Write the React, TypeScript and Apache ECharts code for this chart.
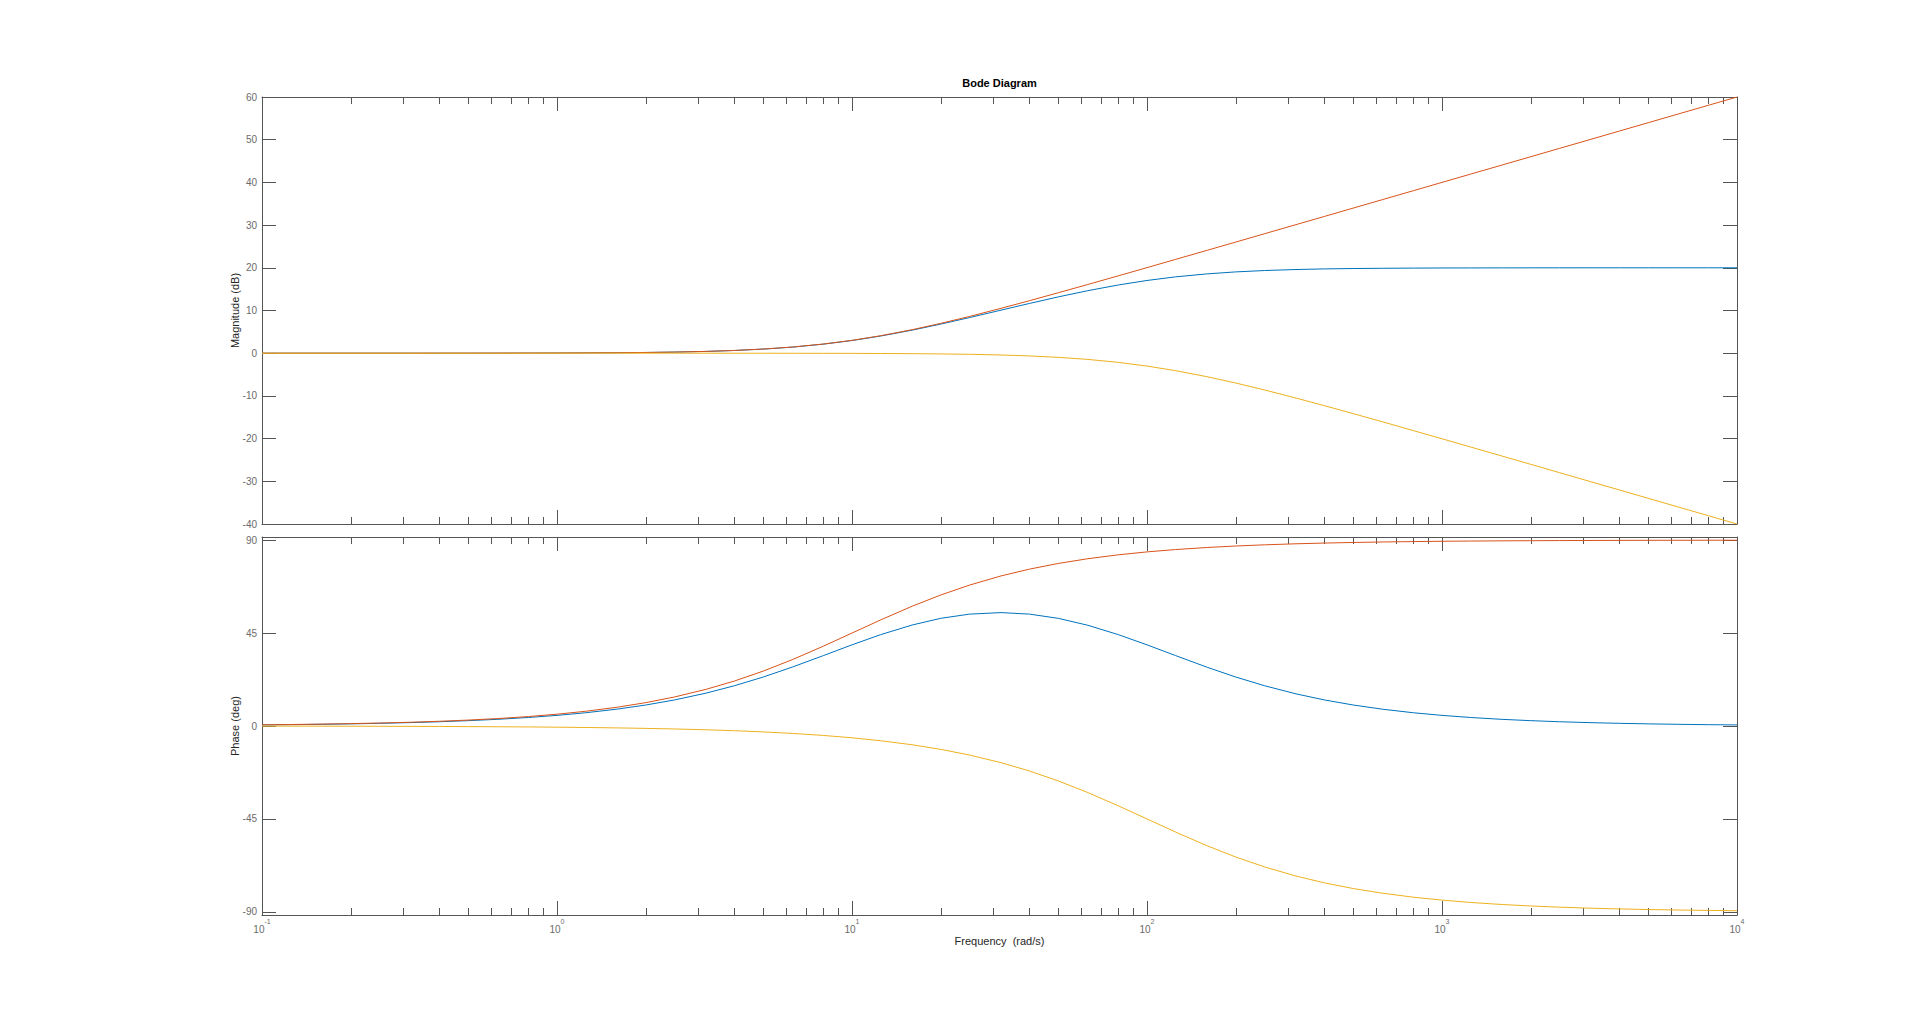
import React, { useEffect, useRef } from 'react';
import * as echarts from 'echarts';

// Frequencies (rad/s) at which the curves were read (10 per decade)
const FREQ = [
  0.1, 0.125, 0.16, 0.2, 0.25, 0.32, 0.4, 0.5, 0.63, 0.8,
  1, 1.25, 1.6, 2, 2.5, 3.2, 4, 5, 6.3, 8,
  10, 12.5, 16, 20, 25, 32, 40, 50, 63, 80,
  100, 125, 160, 200, 250, 320, 400, 500, 630, 800,
  1000, 1250, 1600, 2000, 2500, 3200, 4000, 5000, 6300, 8000,
  10000,
];

// Magnitude (dB)
const MAG_BLUE = [
  0, 0, 0, 0, 0, 0, 0.01, 0.01, 0.02, 0.03,
  0.04, 0.07, 0.11, 0.17, 0.26, 0.42, 0.64, 0.96, 1.43, 2.12,
  2.97, 4.02, 5.4, 6.82, 8.34, 10.08, 11.66, 13.18, 14.64, 15.98,
  17.03, 17.88, 18.58, 19.04, 19.36, 19.6, 19.74, 19.83, 19.89, 19.93,
  19.96, 19.97, 19.98, 19.99, 19.99, 20.0, 20.0, 20.0, 20.0, 20.0,
  20.0,
];
const MAG_RED = [
  0, 0, 0, 0, 0, 0, 0.01, 0.01, 0.02, 0.03,
  0.04, 0.07, 0.11, 0.17, 0.26, 0.42, 0.64, 0.97, 1.45, 2.15,
  3.01, 4.09, 5.51, 6.99, 8.6, 10.51, 12.3, 14.15, 16.09, 18.13,
  20.04, 21.97, 24.1, 26.03, 27.97, 30.11, 32.04, 33.98, 35.99, 38.06,
  40.0, 41.94, 44.08, 46.02, 47.96, 50.1, 52.04, 53.98, 55.99, 58.06,
  60.0,
];
const MAG_YELLOW = [
  0, 0, 0, 0, 0, 0, 0, 0, 0, 0,
  0, 0, 0, 0, 0, 0, -0.01, -0.01, -0.02, -0.03,
  -0.04, -0.07, -0.11, -0.17, -0.26, -0.42, -0.64, -0.97, -1.45, -2.15,
  -3.01, -4.09, -5.51, -6.99, -8.6, -10.51, -12.3, -14.15, -16.09, -18.13,
  -20.04, -21.97, -24.1, -26.03, -27.97, -30.11, -32.04, -33.98, -35.99, -38.06,
  -40.0,
];

// Phase (deg)
const PHASE_BLUE = [
  0.52, 0.64, 0.83, 1.03, 1.29, 1.65, 2.06, 2.58, 3.24, 4.12,
  5.14, 6.41, 8.17, 10.16, 12.6, 15.91, 19.51, 23.7, 28.61, 34.09,
  39.29, 44.22, 48.9, 52.13, 54.16, 54.9, 54.16, 52.13, 48.77, 44.22,
  39.29, 34.09, 28.43, 23.7, 19.51, 15.56, 12.6, 10.16, 8.11, 6.41,
  5.14, 4.12, 3.22, 2.58, 2.06, 1.61, 1.29, 1.03, 0.82, 0.64,
  0.52,
];
const PHASE_RED = [
  0.57, 0.72, 0.92, 1.15, 1.43, 1.83, 2.29, 2.86, 3.6, 4.57,
  5.71, 7.13, 9.09, 11.31, 14.04, 17.75, 21.8, 26.57, 32.21, 38.66,
  45.0, 51.34, 58.0, 63.43, 68.2, 72.65, 75.96, 78.69, 80.98, 82.88,
  84.29, 85.43, 86.42, 87.14, 87.71, 88.21, 88.57, 88.85, 89.09, 89.28,
  89.43, 89.54, 89.64, 89.71, 89.77, 89.82, 89.86, 89.89, 89.91, 89.93,
  89.94,
];
const PHASE_YELLOW = [
  -0.06, -0.07, -0.09, -0.11, -0.14, -0.18, -0.23, -0.29, -0.36, -0.46,
  -0.57, -0.72, -0.92, -1.15, -1.43, -1.83, -2.29, -2.86, -3.6, -4.57,
  -5.71, -7.13, -9.09, -11.31, -14.04, -17.75, -21.8, -26.57, -32.21, -38.66,
  -45.0, -51.34, -58.0, -63.43, -68.2, -72.65, -75.96, -78.69, -80.98, -82.88,
  -84.29, -85.43, -86.42, -87.14, -87.71, -88.21, -88.57, -88.85, -89.09, -89.28,
  -89.43,
];

// Axis ticks
const X_TICKS = [0.1, 1, 10, 100, 1000, 10000];
const X_EXPONENTS = ['-1', '0', '1', '2', '3', '4'];
const X_MINOR = [0.2, 0.3, 0.4, 0.5, 0.6, 0.7, 0.8, 0.9, 2, 3, 4, 5, 6, 7, 8, 9, 20, 30, 40, 50, 60, 70, 80, 90, 200, 300, 400, 500, 600, 700, 800, 900, 2000, 3000, 4000, 5000, 6000, 7000, 8000, 9000];
const MAG_MIN = -40;
const MAG_MAX = 60;
const MAG_STEP = 10;
const PHASE_TICKS = [-90, -45, 0, 45, 90];
const PHASE_MIN = -91.5;
const PHASE_MAX = 91.5;

const COLORS = ['#0072BD', '#D95319', '#EDB120'];
const AXIS_COLOR = '#555555';
const LABEL_COLOR = '#6b6b6b';
const NAME_COLOR = '#262626';
const FONT = '"Liberation Sans", Arial, Helvetica, sans-serif';

function pairs(ys: number[]) {
  return FREQ.map((f, i) => [f, ys[i]]);
}

export default function App() {
  const ref = useRef<HTMLDivElement>(null);

  useEffect(() => {
    if (!ref.current) return;
    const chart = echarts.init(ref.current, null, { renderer: 'svg' });

    const xAxis = (gridIndex: number, position: string, major: boolean, showLabels: boolean, extra: any = {}) => ({
      type: 'log',
      logBase: 10,
      min: 0.1,
      max: 10000,
      gridIndex,
      position,
      axisLine: { show: major, onZero: false, lineStyle: { color: AXIS_COLOR, width: 1 } },
      axisTick: {
        show: true,
        inside: true,
        length: major ? 14 : 7,
        customValues: major ? X_TICKS : X_MINOR,
        lineStyle: { color: AXIS_COLOR, width: 1 },
      },
      axisLabel: {
        show: showLabels,
        customValues: X_TICKS,
        margin: 3,
        formatter: (v: number) => {
          let idx = 0;
          let best = Infinity;
          X_TICKS.forEach((t, i) => {
            const d = Math.abs(Math.log10(t) - Math.log10(v));
            if (d < best) { best = d; idx = i; }
          });
          return `{b|10}{s|${X_EXPONENTS[idx]}}`;
        },
        rich: {
          b: { fontSize: 10, fontFamily: FONT, color: LABEL_COLOR, lineHeight: 22 },
          s: { fontSize: 7, fontFamily: FONT, color: LABEL_COLOR, lineHeight: 7, verticalAlign: 'top' },
        },
      },
      splitLine: { show: false },
      minorTick: { show: false },
      minorSplitLine: { show: false },
      axisPointer: { show: false },
      ...extra,
    });

    const yAxis = (gridIndex: number, position: string, showLabels: boolean, range: any, extra: any = {}) => {
      const { ticks, ...rest } = range;
      return {
        type: 'value',
        gridIndex,
        position,
        ...rest,
        axisLine: { show: true, onZero: false, lineStyle: { color: AXIS_COLOR, width: 1 } },
        axisTick: { show: true, inside: true, length: 14, lineStyle: { color: AXIS_COLOR, width: 1 }, ...(ticks ? { customValues: ticks } : {}) },
        axisLabel: {
          show: showLabels,
          margin: 5,
          fontSize: 10,
          fontFamily: FONT,
          color: LABEL_COLOR,
          ...(ticks ? { customValues: ticks } : {}),
        },
        splitLine: { show: false },
        ...extra,
      };
    };

    const magRange = { min: MAG_MIN, max: MAG_MAX, interval: MAG_STEP };
    const phaseRange = { min: PHASE_MIN, max: PHASE_MAX, ticks: PHASE_TICKS };

    const nameStyle = { fontSize: 11, fontFamily: FONT, color: NAME_COLOR };

    const line = (name: string, data: number[], color: string, xi: number, yi: number) => ({
      name,
      type: 'line',
      xAxisIndex: xi,
      yAxisIndex: yi,
      data: pairs(data),
      showSymbol: false,
      symbol: 'none',
      smooth: false,
      lineStyle: { color, width: 1 },
      itemStyle: { color },
      emphasis: { disabled: true },
      silent: true,
    });

    const option: any = {
      animation: false,
      backgroundColor: '#ffffff',
      grid: [
        { left: 262, top: 97, width: 1475, height: 427, outerBoundsMode: 'none' },
        { left: 262, top: 537, width: 1475, height: 378, outerBoundsMode: 'none' },
      ],
      xAxis: [
        xAxis(0, 'bottom', true, false),
        xAxis(0, 'top', true, false),
        xAxis(0, 'bottom', false, false),
        xAxis(0, 'top', false, false),
        xAxis(1, 'bottom', true, true, {
          name: 'Frequency  (rad/s)',
          nameLocation: 'middle',
          nameGap: 20,
          nameTextStyle: nameStyle,
        }),
        xAxis(1, 'top', true, false),
        xAxis(1, 'bottom', false, false),
        xAxis(1, 'top', false, false),
      ],
      yAxis: [
        yAxis(0, 'left', true, magRange, { name: 'Magnitude (dB)', nameLocation: 'middle', nameGap: 22, nameMoveOverlap: false, nameTextStyle: nameStyle }),
        yAxis(0, 'right', false, magRange),
        yAxis(1, 'left', true, phaseRange, { name: 'Phase (deg)', nameLocation: 'middle', nameGap: 22, nameMoveOverlap: false, nameTextStyle: nameStyle }),
        yAxis(1, 'right', false, phaseRange),
      ],
      graphic: [
        {
          type: 'text',
          x: 999.5,
          y: 83,
          style: {
            text: 'Bode Diagram',
            fontSize: 11,
            fontWeight: 'bold',
            fontFamily: FONT,
            fill: '#000000',
            align: 'center',
            verticalAlign: 'middle',
          },
        },
      ],
      series: [
        line('Blue magnitude', MAG_BLUE, COLORS[0], 0, 0),
        line('Red magnitude', MAG_RED, COLORS[1], 0, 0),
        line('Yellow magnitude', MAG_YELLOW, COLORS[2], 0, 0),
        line('Blue phase', PHASE_BLUE, COLORS[0], 4, 2),
        line('Red phase', PHASE_RED, COLORS[1], 4, 2),
        line('Yellow phase', PHASE_YELLOW, COLORS[2], 4, 2),
      ],
    };

    chart.setOption(option);
    return () => chart.dispose();
  }, []);

  return (
    <div
      ref={ref}
      style={{ position: 'fixed', left: 0, top: 0, width: 1920, height: 1029, background: '#ffffff' }}
    />
  );
}
